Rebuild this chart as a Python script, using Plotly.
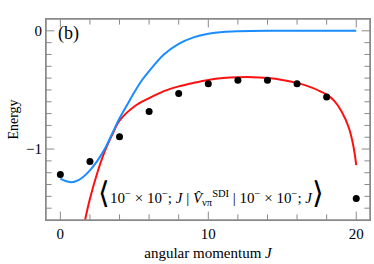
import plotly.graph_objects as go

# data points (black dots)
j_points = [0, 2, 4, 6, 8, 10, 12, 14, 16, 18, 20]
e_points = [-1.215, -1.105, -0.896, -0.682, -0.53, -0.448, -0.417, -0.417, -0.448, -0.56, -1.418]

# blue curve
j_blue = [0, 0.35, 0.7, 1.0, 1.5, 2.0, 2.5, 3.0, 3.5, 4.0, 4.5, 5.0, 5.5, 6.0, 7.0, 8.0, 9.0, 10.0, 11.0, 12.0, 14.0, 17.0, 20.0]
e_blue = [-1.25, -1.27, -1.28, -1.275, -1.24, -1.18, -1.1, -1.0, -0.87, -0.74, -0.63, -0.52, -0.42, -0.34, -0.2, -0.11, -0.055, -0.025, -0.01, -0.004, 0.0, 0.0, 0.0]

# red curve
j_red = [1.67, 2.0, 2.5, 3.0, 3.5, 4.0, 5.0, 6.0, 7.0, 8.0, 9.0, 10.0, 11.0, 12.0, 13.0, 14.0, 15.0, 16.0, 17.0, 18.0, 18.5, 19.0, 19.5, 19.8, 20.0]
e_red = [-1.6, -1.42, -1.2, -1.02, -0.88, -0.76, -0.64, -0.57, -0.51, -0.47, -0.44, -0.415, -0.4, -0.393, -0.392, -0.4, -0.415, -0.44, -0.48, -0.54, -0.59, -0.68, -0.82, -0.97, -1.135]

# tick positions
x_major = [0, 10, 20]
x_minor = [2, 4, 6, 8, 12, 14, 16, 18]
y_major = [-1, 0]
y_minor = [-1.5, -1.4, -1.3, -1.2, -1.1, -0.9, -0.8, -0.7, -0.6, -0.5, -0.4, -0.3, -0.2, -0.1]

x_range = [-0.97, 20.93]
y_range = [-1.6, 0.1]

serif = "Liberation Serif"
axis_color = "#8a8a8a"

fig = go.Figure()
fig.add_trace(go.Scatter(x=j_red, y=e_red, mode="lines",
                         line=dict(color="#ff1010", width=2, shape="spline")))
fig.add_trace(go.Scatter(x=j_blue, y=e_blue, mode="lines",
                         line=dict(color="#1a8cff", width=2, shape="spline")))
fig.add_trace(go.Scatter(x=j_points, y=e_points, mode="markers",
                         marker=dict(color="black", size=7)))


def tick_marks(xs, ys, symbol, size):
    # half of each marker is clipped by the plot edge, leaving an inward tick
    fig.add_trace(go.Scatter(x=xs, y=ys, mode="markers", cliponaxis=True, hoverinfo="skip",
                             marker=dict(symbol=symbol, size=size,
                                         line=dict(color=axis_color, width=1))))


for edge in y_range:
    tick_marks(x_major, [edge] * len(x_major), "line-ns", 12)
    tick_marks(x_minor, [edge] * len(x_minor), "line-ns", 8)
for edge in x_range:
    tick_marks([edge] * len(y_major), y_major, "line-ew", 12)
    tick_marks([edge] * len(y_minor), y_minor, "line-ew", 8)

# frame drawn on an overlay axis pair spanning 0..1
fig.add_trace(go.Scatter(x=[0, 1, 1, 0, 0], y=[0, 0, 1, 1, 0], mode="lines",
                         xaxis="x2", yaxis="y2", cliponaxis=False, hoverinfo="skip",
                         line=dict(color=axis_color, width=1.5)))

fig.update_layout(
    xaxis=dict(
        range=x_range, showgrid=False, zeroline=False, automargin=False,
        showline=True, linecolor=axis_color, linewidth=1, mirror=True,
        ticks="", tickvals=x_major,
        tickfont=dict(family=serif, size=15, color="black"),
        title=dict(text="angular momentum <i>J</i>", font=dict(family=serif, size=15, color="black"), standoff=6),
    ),
    yaxis=dict(
        range=y_range, showgrid=False, zeroline=False, automargin=False,
        showline=True, linecolor=axis_color, linewidth=1, mirror=True,
        ticks="", tickvals=y_major,
        tickfont=dict(family=serif, size=15, color="black"),
        title=dict(text="Energy", font=dict(family=serif, size=14, color="black"), standoff=4),
    ),
    xaxis2=dict(overlaying="x", range=[0, 1], visible=False, fixedrange=True),
    yaxis2=dict(overlaying="y", range=[0, 1], visible=False, fixedrange=True),
)

fig.add_annotation(x=0.03, y=0.93, xref="paper", yref="paper", text="(b)",
                   showarrow=False, font=dict(family=serif, size=18, color="black"),
                   xanchor="left", yanchor="middle")

label = ("<span style='font-size:30px'>\u27e8</span>10<sup>\u2212</sup> \u00d7 10<sup>\u2212</sup>; <i>J</i> "
         "| <i>V\u0302</i><sub>\u03bd\u03c0</sub><sup>SDI</sup> | "
         "10<sup>\u2212</sup> \u00d7 10<sup>\u2212</sup>; <i>J</i><span style='font-size:30px'>\u27e9</span>")
fig.add_annotation(x=10.2, y=-1.37, xref="x", yref="y", text=label,
                   showarrow=False, font=dict(family=serif, size=15, color="black"),
                   xanchor="center", yanchor="middle")

fig.update_layout(
    width=374, height=264,
    margin=dict(l=46, r=4, t=19, b=44),
    plot_bgcolor="white", paper_bgcolor="white",
    showlegend=False,
)

# drop the default page margin so the figure sits at the window corner
fig.write_html("out.html", config={"displayModeBar": False},
               post_script="document.body.style.margin='0';")
